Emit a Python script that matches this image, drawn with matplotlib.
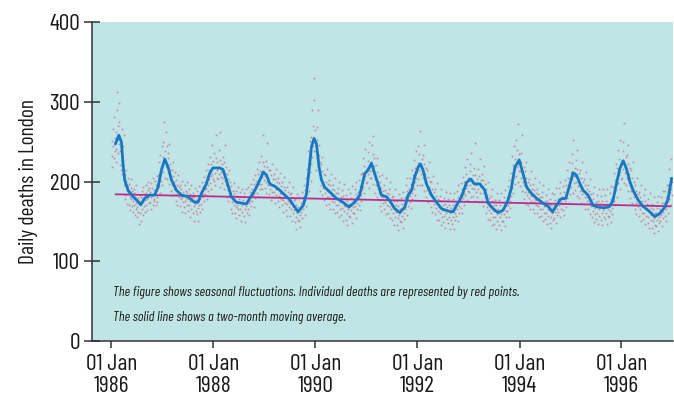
import matplotlib
matplotlib.use("Agg")
import matplotlib.pyplot as plt
import datetime as dt
import calendar

# ---------------- data ----------------
# two-month moving average (read at points along the blue line)
ma_dates = [
    "1986-01-30", "1986-02-23", "1986-03-14", "1986-03-25", "1986-04-06", "1986-04-30",
    "1986-06-05", "1986-06-29", "1986-07-30", "1986-08-27", "1986-10-02", "1986-11-07",
    "1986-12-01", "1986-12-25", "1987-01-18", "1987-02-11", "1987-03-07", "1987-04-12",
    "1987-05-18", "1987-07-03", "1987-08-20", "1987-09-13", "1987-10-07", "1987-11-12",
    "1987-12-05", "1987-12-29", "1988-02-15", "1988-03-10", "1988-04-03", "1988-05-09",
    "1988-06-14", "1988-07-20", "1988-08-25", "1988-09-18", "1988-10-24", "1988-11-29",
    "1988-12-23", "1989-01-16", "1989-02-08", "1989-03-16", "1989-04-21", "1989-05-27",
    "1989-07-02", "1989-08-01", "1989-08-30", "1989-10-05", "1989-10-29", "1989-11-16",
    "1989-12-03", "1989-12-22", "1990-01-08", "1990-01-27", "1990-02-13", "1990-03-08",
    "1990-04-13", "1990-05-31", "1990-07-17", "1990-08-29", "1990-10-09", "1990-11-14",
    "1990-12-20", "1991-01-12", "1991-02-06", "1991-03-01", "1991-03-25", "1991-04-18",
    "1991-05-24", "1991-06-17", "1991-07-23", "1991-08-28", "1991-10-03", "1991-10-27",
    "1991-11-20", "1991-12-13", "1992-01-06", "1992-01-23", "1992-02-11", "1992-03-06",
    "1992-04-11", "1992-05-17", "1992-06-22", "1992-08-08", "1992-09-13", "1992-10-07",
    "1992-11-12", "1992-12-18", "1993-01-18", "1993-02-11", "1993-03-23", "1993-04-28",
    "1993-05-21", "1993-06-26", "1993-08-01", "1993-09-06", "1993-10-12", "1993-11-05",
    "1993-11-29", "1993-12-30", "1994-01-23", "1994-02-21", "1994-03-28", "1994-05-03",
    "1994-06-19", "1994-07-25", "1994-08-25", "1994-09-23", "1994-10-22", "1994-11-29",
    "1994-12-22", "1995-01-20", "1995-02-13", "1995-03-08", "1995-04-01", "1995-05-07",
    "1995-06-12", "1995-07-18", "1995-09-04", "1995-10-10", "1995-11-02", "1995-11-27",
    "1995-12-20", "1996-01-13", "1996-02-06", "1996-03-01", "1996-03-24", "1996-04-29",
    "1996-06-03", "1996-07-10", "1996-08-27", "1996-10-02", "1996-11-07", "1996-12-01",
    "1996-12-25",
]
ma_values = [
    247, 258, 249, 222, 202, 189, 181, 177, 171, 179, 183, 183,
    193, 214, 228, 218, 202, 189, 183, 181, 174, 174, 185, 197,
    210, 217, 217, 215, 202, 181, 174, 173, 172, 179, 189, 202,
    212, 208, 197, 194, 189, 183, 177, 169, 162, 170, 185, 214,
    243, 254, 247, 218, 202, 193, 187, 179, 174, 168, 174, 183,
    210, 214, 223, 210, 197, 183, 181, 176, 166, 161, 168, 183,
    189, 206, 218, 222, 214, 197, 183, 174, 166, 163, 162, 170,
    181, 199, 203, 197, 197, 189, 173, 166, 161, 164, 177, 193,
    218, 227, 212, 193, 185, 179, 173, 169, 162, 170, 178, 179,
    193, 211, 208, 198, 189, 183, 170, 168, 167, 169, 177, 198,
    216, 226, 216, 200, 189, 177, 169, 164, 156, 160, 168, 179,
    204,
]

# linear trend (end points of the magenta line)
trend_dates = ["1986-02-01", "1996-12-17"]
trend_values = [184, 169]

# daily deaths (red points), estimated per month, Jan..Dec
deaths_1986 = [
    [232, 251, 218, 266, 244, 229, 281, 238, 255, 224],
    [262, 241, 289, 312, 236, 270, 253, 298, 247, 275],
    [238, 221, 252, 214, 266, 230, 209, 245, 226, 258],
    [196, 183, 208, 178, 201, 215, 189, 172, 194, 205],
    [186, 171, 197, 180, 164, 192, 178, 203, 169, 188],
    [176, 162, 185, 170, 190, 158, 181, 173, 166, 195],
    [168, 155, 179, 162, 147, 175, 183, 160, 171, 150],
    [180, 166, 188, 158, 174, 193, 169, 184, 162, 177],
    [185, 170, 196, 178, 164, 189, 181, 200, 173, 192],
    [187, 174, 198, 180, 166, 192, 183, 205, 171, 178],
    [189, 176, 201, 183, 170, 196, 207, 181, 174, 193],
    [208, 194, 225, 212, 186, 233, 201, 218, 196, 244],
]
deaths_1987 = [
    [231, 212, 249, 226, 275, 205, 238, 262, 219, 244],
    [218, 203, 236, 211, 229, 197, 247, 214, 222, 206],
    [202, 188, 215, 195, 224, 183, 207, 199, 191, 212],
    [190, 176, 202, 184, 196, 171, 208, 187, 180, 193],
    [184, 169, 196, 178, 190, 162, 201, 181, 174, 187],
    [183, 168, 195, 176, 160, 188, 179, 199, 171, 186],
    [178, 163, 191, 170, 156, 184, 175, 196, 166, 180],
    [175, 160, 186, 169, 151, 181, 172, 192, 163, 177],
    [174, 159, 188, 167, 150, 182, 171, 194, 162, 178],
    [187, 172, 200, 180, 165, 193, 184, 206, 176, 190],
    [199, 184, 214, 192, 178, 207, 196, 222, 188, 203],
    [214, 198, 231, 207, 190, 222, 246, 210, 203, 226],
]
deaths_1988 = [
    [218, 201, 236, 211, 196, 229, 258, 214, 205, 224],
    [217, 203, 239, 209, 193, 227, 262, 212, 206, 222],
    [213, 198, 231, 205, 190, 224, 246, 209, 201, 218],
    [196, 181, 210, 189, 175, 203, 192, 215, 184, 199],
    [181, 166, 194, 174, 160, 188, 177, 198, 170, 184],
    [175, 160, 188, 168, 154, 182, 171, 193, 165, 178],
    [174, 158, 187, 166, 151, 180, 170, 191, 162, 177],
    [173, 157, 185, 166, 149, 180, 169, 190, 161, 176],
    [180, 165, 193, 173, 158, 187, 176, 197, 169, 183],
    [190, 175, 203, 183, 168, 197, 186, 208, 179, 193],
    [201, 186, 216, 194, 180, 210, 197, 224, 190, 205],
    [213, 197, 232, 206, 190, 224, 258, 209, 202, 220],
]
deaths_1989 = [
    [207, 192, 226, 199, 185, 218, 248, 203, 196, 214],
    [199, 184, 215, 191, 177, 208, 195, 222, 187, 203],
    [195, 180, 210, 187, 173, 203, 191, 216, 183, 199],
    [190, 175, 204, 182, 168, 198, 186, 211, 178, 194],
    [185, 170, 199, 177, 162, 193, 181, 206, 173, 189],
    [180, 164, 193, 172, 157, 187, 176, 200, 168, 184],
    [173, 157, 186, 165, 150, 180, 169, 193, 161, 177],
    [164, 149, 178, 156, 141, 171, 160, 184, 152, 168],
    [166, 151, 180, 158, 143, 173, 162, 187, 154, 170],
    [181, 165, 196, 173, 158, 189, 177, 204, 169, 185],
    [216, 197, 238, 208, 188, 229, 212, 251, 201, 222],
    [256, 231, 289, 244, 270, 330, 238, 302, 249, 265],
]
deaths_1990 = [
    [238, 215, 268, 229, 252, 221, 290, 233, 246, 224],
    [204, 188, 222, 196, 213, 183, 231, 200, 192, 210],
    [193, 177, 208, 185, 200, 171, 216, 189, 181, 197],
    [188, 172, 202, 180, 195, 166, 210, 184, 176, 191],
    [182, 166, 196, 174, 189, 160, 204, 178, 170, 185],
    [178, 162, 192, 170, 185, 155, 200, 174, 166, 181],
    [175, 158, 189, 167, 182, 151, 197, 171, 163, 178],
    [169, 152, 183, 161, 176, 145, 191, 165, 157, 172],
    [172, 155, 186, 164, 179, 148, 194, 168, 160, 175],
    [177, 161, 191, 169, 184, 154, 199, 173, 165, 180],
    [187, 171, 202, 179, 194, 164, 210, 183, 175, 190],
    [211, 193, 230, 203, 220, 186, 241, 207, 198, 215],
]
deaths_1991 = [
    [217, 199, 237, 209, 226, 192, 249, 213, 204, 221],
    [224, 204, 246, 215, 235, 197, 257, 219, 210, 229],
    [203, 186, 221, 195, 212, 180, 230, 199, 191, 207],
    [185, 169, 200, 177, 192, 163, 208, 181, 173, 188],
    [182, 166, 196, 174, 189, 159, 204, 178, 170, 185],
    [177, 161, 191, 169, 184, 154, 199, 173, 165, 180],
    [168, 152, 182, 160, 175, 145, 190, 164, 156, 171],
    [162, 146, 176, 154, 169, 139, 184, 158, 150, 165],
    [165, 149, 179, 157, 172, 142, 187, 161, 153, 168],
    [181, 165, 196, 173, 188, 158, 204, 177, 169, 184],
    [190, 174, 205, 182, 197, 167, 214, 186, 178, 193],
    [208, 190, 227, 200, 217, 183, 238, 204, 195, 212],
]
deaths_1992 = [
    [223, 203, 245, 214, 234, 196, 263, 218, 209, 228],
    [213, 195, 233, 205, 222, 188, 246, 209, 200, 217],
    [197, 180, 214, 189, 206, 174, 224, 193, 185, 201],
    [184, 168, 199, 176, 191, 162, 207, 180, 172, 187],
    [175, 159, 190, 167, 182, 152, 198, 171, 163, 178],
    [168, 152, 182, 160, 175, 145, 190, 164, 156, 171],
    [165, 149, 179, 157, 172, 142, 187, 161, 153, 168],
    [164, 148, 178, 156, 171, 141, 186, 160, 152, 167],
    [164, 147, 178, 156, 171, 140, 186, 160, 152, 167],
    [173, 157, 188, 165, 180, 150, 196, 169, 161, 176],
    [183, 167, 198, 175, 190, 160, 206, 179, 171, 186],
    [200, 183, 218, 192, 209, 177, 228, 196, 188, 204],
]
deaths_1993 = [
    [204, 187, 222, 196, 213, 180, 236, 200, 192, 208],
    [199, 182, 217, 191, 208, 175, 248, 195, 187, 203],
    [198, 181, 216, 190, 207, 174, 228, 194, 186, 202],
    [193, 176, 210, 185, 202, 169, 220, 189, 181, 197],
    [176, 160, 191, 168, 183, 153, 199, 172, 164, 179],
    [168, 152, 182, 160, 175, 145, 190, 164, 156, 171],
    [163, 147, 177, 155, 170, 140, 185, 159, 151, 166],
    [163, 146, 177, 155, 170, 139, 185, 159, 151, 166],
    [167, 151, 181, 159, 174, 144, 189, 163, 155, 170],
    [179, 163, 194, 171, 186, 156, 202, 175, 167, 182],
    [211, 192, 232, 202, 221, 185, 244, 206, 197, 216],
    [228, 207, 252, 218, 240, 200, 272, 222, 213, 234],
]
deaths_1994 = [
    [213, 194, 236, 204, 225, 188, 258, 208, 199, 218],
    [195, 178, 213, 187, 204, 172, 224, 191, 183, 199],
    [187, 171, 203, 179, 196, 165, 213, 183, 175, 191],
    [182, 166, 197, 174, 189, 160, 205, 178, 170, 185],
    [177, 161, 191, 169, 184, 155, 199, 173, 165, 180],
    [173, 157, 187, 165, 180, 151, 195, 169, 161, 176],
    [169, 153, 183, 161, 176, 147, 191, 165, 157, 172],
    [164, 148, 178, 156, 171, 142, 186, 160, 152, 167],
    [170, 154, 184, 162, 177, 148, 192, 166, 158, 173],
    [178, 162, 192, 170, 185, 156, 200, 174, 166, 181],
    [180, 164, 194, 172, 187, 158, 202, 176, 168, 183],
    [196, 179, 214, 188, 205, 173, 225, 192, 184, 200],
]
deaths_1995 = [
    [212, 193, 234, 203, 223, 186, 252, 207, 198, 217],
    [207, 189, 227, 199, 216, 182, 240, 203, 194, 211],
    [196, 179, 214, 188, 205, 173, 225, 192, 184, 200],
    [188, 172, 203, 180, 195, 166, 212, 184, 176, 191],
    [181, 165, 195, 173, 188, 159, 203, 177, 169, 184],
    [171, 155, 185, 163, 178, 149, 193, 167, 159, 174],
    [169, 153, 183, 161, 176, 147, 191, 165, 157, 172],
    [168, 152, 182, 160, 175, 146, 190, 164, 156, 171],
    [169, 153, 183, 161, 176, 147, 191, 165, 157, 172],
    [171, 155, 186, 163, 178, 149, 194, 167, 159, 174],
    [193, 176, 211, 185, 202, 170, 222, 189, 181, 197],
    [217, 198, 239, 208, 228, 191, 252, 212, 203, 222],
]
deaths_1996 = [
    [226, 205, 250, 216, 238, 198, 273, 220, 211, 231],
    [213, 195, 233, 205, 222, 188, 246, 209, 200, 217],
    [196, 179, 214, 188, 205, 173, 225, 192, 184, 200],
    [181, 165, 196, 173, 188, 159, 204, 177, 169, 184],
    [173, 157, 187, 165, 180, 151, 195, 169, 161, 176],
    [169, 153, 183, 161, 176, 147, 191, 165, 157, 172],
    [164, 148, 178, 156, 171, 142, 186, 160, 152, 167],
    [158, 142, 172, 150, 165, 136, 180, 154, 146, 161],
    [160, 144, 174, 152, 167, 138, 182, 156, 148, 163],
    [166, 150, 180, 158, 173, 144, 188, 162, 154, 169],
    [173, 157, 188, 165, 180, 150, 196, 169, 161, 176],
    [196, 178, 216, 187, 205, 171, 228, 191, 183, 200],
]
daily_by_year = {
    1986: deaths_1986, 1987: deaths_1987, 1988: deaths_1988, 1989: deaths_1989,
    1990: deaths_1990, 1991: deaths_1991, 1992: deaths_1992, 1993: deaths_1993,
    1994: deaths_1994, 1995: deaths_1995, 1996: deaths_1996,
}

tick_years = [1986, 1988, 1990, 1992, 1994, 1996]
tick_labels = ["01 Jan\n" + str(y) for y in tick_years]
y_ticks = [0, 100, 200, 300, 400]
y_label = "Daily deaths in London"
note_1 = "The figure shows seasonal fluctuations. Individual deaths are represented by red points."
note_2 = "The solid line shows a two-month moving average."

# ---------------- style ----------------
FONT = ["Barlow Condensed", "Archivo Narrow", "DejaVu Sans"]
plt.rcParams["font.family"] = FONT
BG = "#bfe6e5"
RED = "#d8306c"
BLUE = "#1578c4"
MAGENTA = "#c02a92"
AXC = "#333333"
TXT = "#1a1a1a"

def to_date(s):
    return dt.datetime.strptime(s, "%Y-%m-%d")

fig = plt.figure(figsize=(6.74, 3.99), dpi=100)
ax = fig.add_axes([92 / 674, 57.7 / 399, 581 / 674, 319.6 / 399])
ax.set_facecolor(BG)

# scatter of daily deaths
xs, ys = [], []
for year, months in daily_by_year.items():
    for m, vals in enumerate(months, start=1):
        ndays = calendar.monthrange(year, m)[1]
        n = len(vals)
        for i, v in enumerate(vals):
            day_offset = (i + 0.5) * ndays / n
            xs.append(dt.datetime(year, m, 1) + dt.timedelta(days=day_offset))
            ys.append(v)
ax.plot(xs, ys, linestyle="none", marker="s", markersize=1.2,
        markeredgewidth=0, color=RED, alpha=0.55, zorder=2)

# trend
ax.plot([to_date(d) for d in trend_dates], trend_values, color=MAGENTA,
        lw=1.3, zorder=3)
# moving average
ax.plot([to_date(d) for d in ma_dates], ma_values, color=BLUE, lw=2.0,
        zorder=4, solid_joinstyle="round", solid_capstyle="round")

ax.set_xlim(dt.datetime(1985, 8, 15), dt.datetime(1997, 1, 4))
ax.set_ylim(0, 400)
ax.set_xticks([dt.datetime(y, 1, 1) for y in tick_years])
ax.set_xticklabels(tick_labels, fontsize=17, linespacing=1.08)
ax.set_yticks(y_ticks)
ax.set_yticklabels([str(v) for v in y_ticks], fontsize=17)

for s in ["top", "right"]:
    ax.spines[s].set_visible(False)
for s in ["left", "bottom"]:
    ax.spines[s].set_color(AXC)
    ax.spines[s].set_linewidth(1.1)
ax.tick_params(axis="y", direction="inout", length=11, width=1.1, color=AXC,
               pad=3, labelcolor=TXT)
ax.tick_params(axis="x", direction="out", length=5, width=1.1, color=AXC,
               pad=4, labelcolor=TXT)

ax.set_ylabel(y_label, fontsize=15.5, labelpad=8, color=TXT)

ax.text(0.036, 0.154, note_1, transform=ax.transAxes, fontsize=10,
        style="italic", va="center", ha="left", color=TXT)
ax.text(0.036, 0.076, note_2, transform=ax.transAxes, fontsize=10,
        style="italic", va="center", ha="left", color=TXT)

fig.savefig("out.png", dpi=100, facecolor="white")
